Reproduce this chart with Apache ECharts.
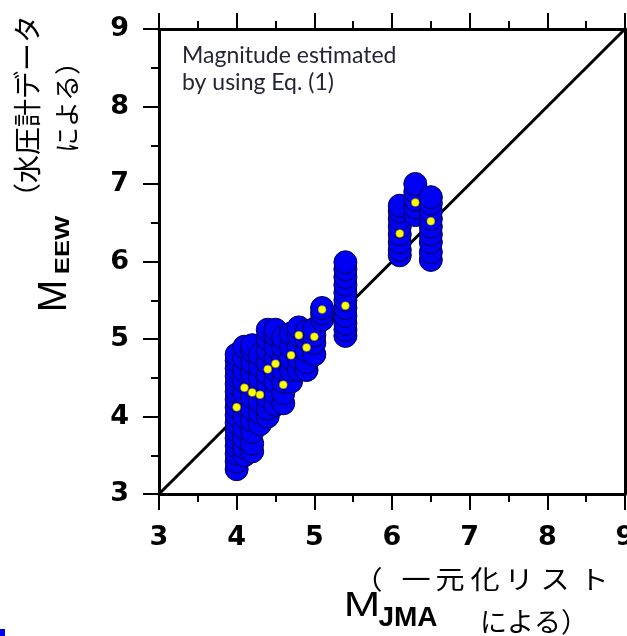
<!DOCTYPE html>
<html><head><meta charset="utf-8">
<script src="https://cdn.jsdelivr.net/npm/echarts@6/dist/echarts.min.js"></script>
<style>html,body{margin:0;padding:0;background:#fff}#c{width:627px;height:636px}</style>
</head><body><div id="c"></div><script>
// M_JMA of each event (x position of each vertical stack)
const mJMA = [4.0, 4.1, 4.2, 4.3, 4.4, 4.5, 4.6, 4.7, 4.8, 4.9, 5.0, 5.1, 5.4, 6.1, 6.3, 6.5];
// successive M_EEW estimates of each event (blue circles)
const est40 = [3.32, 3.42, 3.52, 3.62, 3.72, 3.82, 3.92, 4.02, 4.12, 4.22, 4.32, 4.42, 4.52, 4.62, 4.72, 4.8];
const est41 = [3.5, 3.6, 3.72, 3.85, 4.0, 4.15, 4.3, 4.45, 4.6, 4.75, 4.9];
const est42 = [3.55, 3.65, 3.8, 3.95, 4.1, 4.25, 4.4, 4.55, 4.7, 4.85, 4.92];
const est43 = [3.9, 4.05, 4.2, 4.35, 4.5, 4.65, 4.8];
const est44 = [4.0, 4.1, 4.25, 4.4, 4.55, 4.7, 4.85, 5.0, 5.12];
const est45 = [4.15, 4.3, 4.45, 4.6, 4.75, 4.9, 5.05, 5.12];
const est46 = [4.17, 4.3, 4.45, 4.6, 4.75, 4.9, 5.02];
const est47 = [4.45, 4.6, 4.75, 4.9, 5.07];
const est48 = [4.6, 4.75, 4.9, 5.05, 5.15];
const est49 = [4.6, 4.7, 4.85, 5.0, 5.1];
const est50 = [4.8, 4.95, 5.05, 5.13];
const est51 = [5.25, 5.33, 5.4];
const est54 = [5.04, 5.12, 5.2, 5.3, 5.4, 5.5, 5.6, 5.7, 5.8, 5.9, 5.99];
const est61 = [6.08, 6.15, 6.25, 6.35, 6.45, 6.55, 6.65, 6.72];
const est63 = [6.6, 6.7, 6.8, 6.9, 7.0];
const est65 = [6.02, 6.12, 6.25, 6.35, 6.45, 6.55, 6.65, 6.75, 6.83];
const eewEstimates = [est40, est41, est42, est43, est44, est45, est46, est47, est48, est49, est50, est51, est54, est61, est63, est65];
// final M_EEW estimated by Eq.(1) (yellow dots)
const eewFinal = [4.12, 4.37, 4.31, 4.28, 4.61, 4.68, 4.41, 4.79, 5.05, 4.89, 5.03, 5.38, 5.43, 6.36, 6.76, 6.52];
const oneToOne = [3, 9];
const axisMin = 3, axisMax = 9, axisStep = 1;
const xTitleChars = ['（', '一', '元', '化', 'リ', 'ス', 'ト'];
const xTitleCharX = [368, 416, 450, 485, 519, 555, 594];

const blueData = [];
mJMA.forEach((m, i) => eewEstimates[i].forEach(v => blueData.push([m, v])));
const yellowData = mJMA.map((m, i) => [m, eewFinal[i]]);

const chart = echarts.init(document.getElementById('c'), null, {renderer: 'canvas'});
const lab = {fontFamily: 'DejaVu Sans', fontWeight: 'bold', fontSize: 27, color: '#000'};
function ax(pos, showLabel, margin) {
  return {
    type: 'value', position: pos, min: axisMin, max: axisMax, interval: axisStep,
    axisLine: {show: true, onZero: false, lineStyle: {color: '#000', width: 3}},
    axisTick: {show: true, inside: false, length: 16, lineStyle: {color: '#000', width: 2}},
    minorTick: {show: true, splitNumber: 2, length: 8, lineStyle: {color: '#000', width: 2}},
    splitLine: {show: false}, minorSplitLine: {show: false},
    axisLabel: Object.assign({show: showLabel, margin: margin, hideOverlap: false}, lab)
  };
}
const graphics = [
  {type: 'text', x: 182, y: 42, z: 10, style: {text: 'Magnitude estimated\nby using Eq. (1)', font: '23px Lato', lineHeight: 27, fill: '#252535', align: 'left', verticalAlign: 'top'}},
  // y axis title
  {type: 'text', x: 55, y: 296, rotation: Math.PI / 2, scaleX: 0.97, z: 10, style: {text: 'M', font: '40px "Liberation Sans"', fill: '#000', align: 'center', verticalAlign: 'middle'}},
  {type: 'text', x: 63, y: 245, rotation: Math.PI / 2, scaleX: 1.22, z: 10, style: {text: 'EEW', font: 'bold 21px "Liberation Sans"', fill: '#000', align: 'center', verticalAlign: 'middle'}},
  {type: 'text', x: 27, y: 113, rotation: Math.PI / 2, z: 10, style: {text: '（水圧計データ', font: '28px "Noto Sans CJK JP"', fill: '#000', align: 'center', verticalAlign: 'middle'}},
  {type: 'text', x: 67, y: 101, rotation: Math.PI / 2, z: 10, style: {text: 'による）', font: '26px "Noto Sans CJK JP"', fill: '#000', align: 'center', verticalAlign: 'middle'}},
  // x axis title
  {type: 'text', x: 362, y: 606, scaleX: 1.25, z: 10, style: {text: 'M', font: '35px "Liberation Sans"', fill: '#000', align: 'center', verticalAlign: 'middle'}},
  {type: 'text', x: 408, y: 618, z: 10, style: {text: 'JMA', font: 'bold 28px "Liberation Sans"', fill: '#000', align: 'center', verticalAlign: 'middle'}},
  {type: 'text', x: 480, y: 622, z: 10, style: {text: 'による）', font: '27px "Noto Sans CJK JP"', fill: '#000', align: 'left', verticalAlign: 'middle'}},
  {type: 'rect', shape: {x: 0, y: 629, width: 5, height: 7}, style: {fill: '#0000f2'}, z: 10}
];
xTitleChars.forEach((ch, i) => graphics.push({type: 'text', x: xTitleCharX[i], y: 579, scaleX: 1.12, z: 10,
  style: {text: ch, font: '26px "Noto Sans CJK JP"', fill: '#000', align: 'center', verticalAlign: 'middle'}}));

const option = {
  animation: false,
  backgroundColor: '#fff',
  grid: {left: 159, top: 29, width: 466, height: 465, containLabel: false, outerBoundsMode: 'none'},
  xAxis: [ax('bottom', true, 30), ax('top', false, 8)],
  yAxis: [ax('left', true, 30), Object.assign(ax('right', false, 8), {axisTick: {show: false}, minorTick: {show: false}})],
  series: [
    {type: 'line', data: [[oneToOne[0], oneToOne[0]], [oneToOne[1], oneToOne[1]]], symbol: 'none',
     lineStyle: {color: '#000', width: 3}, z: 1, silent: true},
    {type: 'scatter', data: blueData, symbolSize: 23, z: 2,
     itemStyle: {color: '#0000f2', borderColor: '#00004a', borderWidth: 1, opacity: 1}},
    {type: 'scatter', data: yellowData, symbolSize: 8, z: 3,
     itemStyle: {color: '#ffff00', borderColor: '#6b6b00', borderWidth: 0.5, opacity: 1}}
  ],
  graphic: graphics
};
chart.setOption(option);
</script></body></html>
